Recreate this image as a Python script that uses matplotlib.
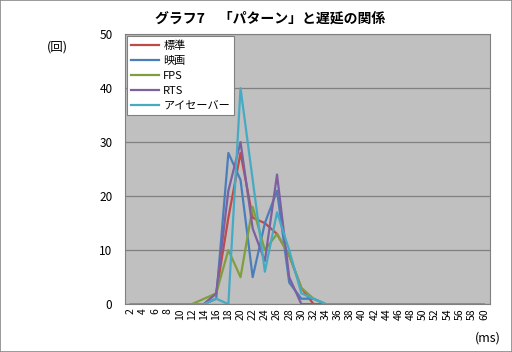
import matplotlib
matplotlib.use('Agg')
import matplotlib.pyplot as plt
from matplotlib.patches import Rectangle

plt.rcParams['font.family'] = ['Noto Sans CJK JP', 'DejaVu Sans']

# latency bins (ms)
cats = [str(v) for v in range(2, 62, 2)]

# counts per bin
std = [0, 0, 0, 0, 0, 0, 0, 2, 16, 28, 16, 15, 13, 9, 3, 0, 0, 0, 0, 0, 0, 0, 0, 0, 0, 0, 0, 0, 0, 0]
movie = [0, 0, 0, 0, 0, 0, 0, 1, 28, 23, 5, 15, 21, 4, 1, 1, 0, 0, 0, 0, 0, 0, 0, 0, 0, 0, 0, 0, 0, 0]
fps = [0, 0, 0, 0, 0, 0, 1, 2, 10, 5, 18, 10, 13, 9, 3, 1, 0, 0, 0, 0, 0, 0, 0, 0, 0, 0, 0, 0, 0, 0]
rts = [0, 0, 0, 0, 0, 0, 0, 2, 21, 30, 14, 8, 24, 5, 0, 0, 0, 0, 0, 0, 0, 0, 0, 0, 0, 0, 0, 0, 0, 0]
eye = [0, 0, 0, 0, 0, 0, 0, 1, 0, 40, 23, 6, 17, 10, 2, 1, 0, 0, 0, 0, 0, 0, 0, 0, 0, 0, 0, 0, 0, 0]

series = [('標準', std, '#BE4B48'),
          ('映画', movie, '#4A7EBB'),
          ('FPS', fps, '#7F9F3F'),
          ('RTS', rts, '#7D60A0'),
          ('アイセーバー', eye, '#46AAC5')]

fig = plt.figure(figsize=(5.12, 3.52), dpi=100)
fig.patches.append(Rectangle((0, 0), 1, 1, transform=fig.transFigure,
                             fill=False, edgecolor='#888888', lw=1.2))
ax = fig.add_axes([0.244, 0.136, 0.713, 0.767])
ax.set_facecolor('#c0c0c0')

x = list(range(len(cats)))
for name, vals, col in series:
    ax.plot(x, vals, color=col, lw=1.6, label=name)

ax.set_xlim(-0.5, len(cats) - 0.5)
ax.set_ylim(0, 50)
ax.set_yticks([0, 10, 20, 30, 40, 50])
ax.set_xticks(x)
ax.set_xticklabels(cats, rotation=90, fontsize=7.5)
ax.tick_params(axis='y', labelsize=8.5, length=0, pad=9)
ax.tick_params(axis='x', length=0, pad=3)
ax.yaxis.grid(True, color='#808080', lw=0.9)
ax.set_axisbelow(True)
for s in ax.spines.values():
    s.set_color('#808080')

leg = ax.legend(loc='upper left', fontsize=8, frameon=True, fancybox=False,
                framealpha=1, borderaxespad=0.15, handlelength=2.5,
                labelspacing=0.45, borderpad=0.4, handletextpad=0.4)
leg.get_frame().set_edgecolor('#808080')
leg.get_frame().set_linewidth(0.8)
leg.get_frame().set_facecolor('white')

fig.text(0.527, 0.946, 'グラフ7　「パターン」と遅延の関係', ha='center', va='center',
         fontsize=10, fontweight='bold')
fig.text(0.113, 0.866, '(回)', ha='center', va='center', fontsize=9)
fig.text(0.953, 0.04, '(ms)', ha='center', va='center', fontsize=9)

fig.savefig('out.png', dpi=100)
